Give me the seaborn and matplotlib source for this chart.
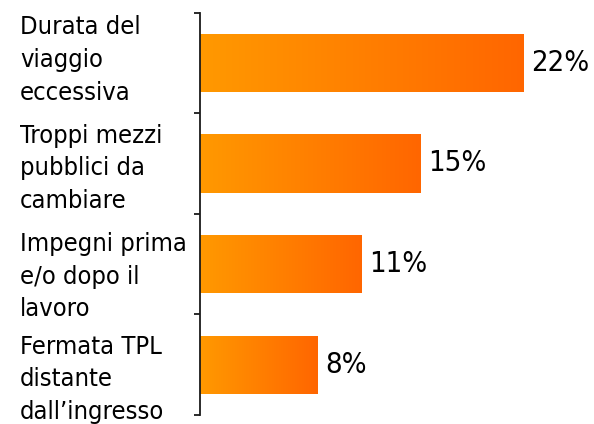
import numpy as np
import pandas as pd
import matplotlib
matplotlib.use("Agg")
import matplotlib.pyplot as plt
import matplotlib.transforms as mtransforms
from matplotlib.colors import LinearSegmentedColormap
import seaborn as sns

categories = [
    "Durata del\nviaggio\neccessiva",
    "Troppi mezzi\npubblici da\ncambiare",
    "Impegni prima\ne/o dopo il\nlavoro",
    "Fermata TPL\ndistante\ndall\u2019ingresso",
]
values = [22, 15, 11, 8]
value_labels = ["22%", "15%", "11%", "8%"]

# layout: last-line baseline of each category label, in px relative to the band centre
label_rise_px = [-36.75, -44.4, -52.2, -54.2]

sns.set_theme(style="white")
plt.rcParams["font.family"] = ["DejaVu Sans Condensed", "DejaVu Sans"]
plt.rcParams["font.stretch"] = "condensed"
plt.rcParams["text.color"] = "black"

df = pd.DataFrame({"cat": categories, "val": values})

fig = plt.figure(figsize=(5.94, 4.24), dpi=100)
ax = fig.add_axes([199.5 / 594, 1 - 415 / 424, 394.5 / 594, (415 - 12.5) / 424])

sns.barplot(data=df, y="cat", x="val", orient="h", color="#FF8000",
            width=0.58, ax=ax, saturation=1)

cmap = LinearSegmentedColormap.from_list("og", ["#FF9900", "#FF6600"])
grad = np.linspace(0, 1, 256).reshape(1, -1)
for patch in list(ax.patches):
    x0, y0 = patch.get_x(), patch.get_y()
    w, h = patch.get_width(), patch.get_height()
    im = ax.imshow(grad, cmap=cmap, aspect="auto",
                   extent=[x0, x0 + w, y0 + h, y0], zorder=patch.get_zorder() + 0.1,
                   interpolation="bilinear")
    im.set_clip_path(patch)
    patch.set_edgecolor("none")

ax.set_xlim(0, 394.5 / 14.72)
ax.set_ylim(len(categories) - 0.5, -0.5)

for i, (v, lab) in enumerate(zip(values, value_labels)):
    ax.annotate(lab, xy=(v, i), xytext=(5.8, 0), textcoords="offset points",
                ha="left", va="center", fontsize=21, color="black")

ax.set_xlabel("")
ax.set_ylabel("")
ax.set_xticks([])
for s in ["top", "right", "bottom"]:
    ax.spines[s].set_visible(False)
ax.spines["left"].set_color("#1a1a1a")
ax.spines["left"].set_linewidth(1.3)

ax.set_yticks(np.arange(-0.5, len(categories), 1.0), minor=True)
ax.tick_params(axis="y", which="minor", left=True, length=4.5, width=1.3,
               color="#1a1a1a", direction="out")
ax.tick_params(axis="y", which="major", length=0, labelleft=False)

blend = mtransforms.blended_transform_factory(fig.transFigure, ax.transData)
for i, (cat, rise) in enumerate(zip(categories, label_rise_px)):
    tr = blend + mtransforms.ScaledTranslation(0, rise / 100, fig.dpi_scale_trans)
    ax.text(20 / 594, i, cat, transform=tr, ha="left", va="baseline",
            multialignment="left", linespacing=1.45, fontsize=18.3,
            color="black")

fig.savefig("out.png", dpi=100)
